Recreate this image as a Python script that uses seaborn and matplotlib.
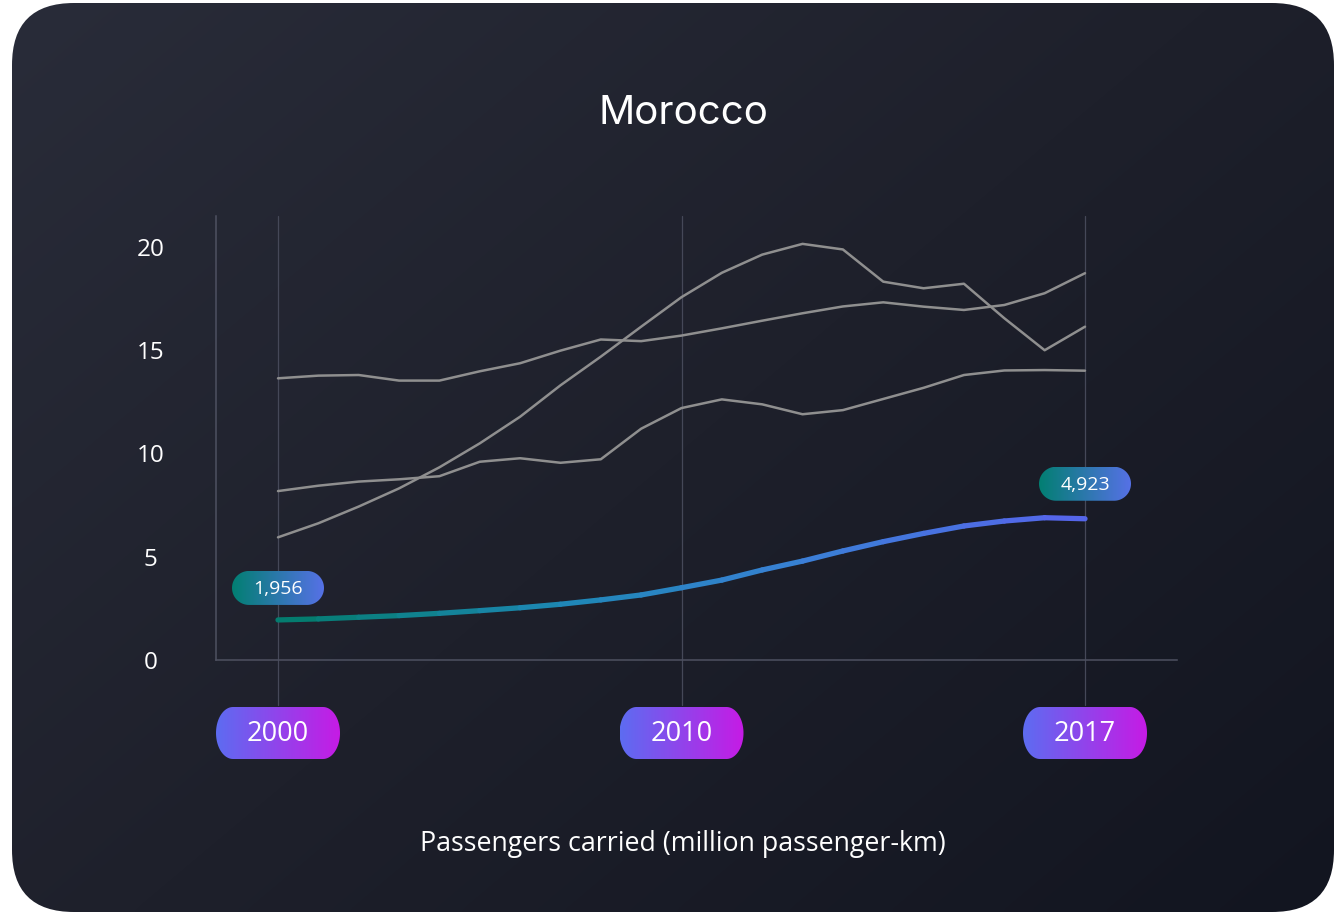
import numpy as np
import pandas as pd
import seaborn as sns
import matplotlib.pyplot as plt
from matplotlib.patches import FancyBboxPatch, PathPatch
from matplotlib.path import Path
from matplotlib.collections import LineCollection
from matplotlib.colors import LinearSegmentedColormap

# positions along the x axis, ticks only at first / middle / last
steps = list(range(21))
tick_steps = [0, 10, 20]
tick_labels = ['2000', '2010', '2017']

# other countries (grey)
line_a = [13.64, 13.77, 13.8, 13.53, 13.53, 13.98, 14.37, 14.98, 15.52, 15.44, 15.71,
          16.06, 16.43, 16.79, 17.12, 17.32, 17.11, 16.95, 17.19, 17.76, 18.73]
line_b = [8.18, 8.44, 8.64, 8.75, 8.9, 9.6, 9.77, 9.55, 9.72, 11.2, 12.2,
          12.62, 12.38, 11.9, 12.1, 12.64, 13.18, 13.8, 14.02, 14.04, 14.01]
line_c = [5.94, 6.62, 7.43, 8.31, 9.33, 10.49, 11.78, 13.3, 14.69, 16.14, 17.57,
          18.75, 19.63, 20.15, 19.88, 18.32, 18.0, 18.22, 16.55, 15.0, 16.14]
# Morocco (highlighted)
morocco = [1.94, 1.99, 2.07, 2.15, 2.26, 2.39, 2.53, 2.7, 2.91, 3.15, 3.5,
           3.87, 4.36, 4.79, 5.28, 5.73, 6.13, 6.49, 6.73, 6.89, 6.84]
start_label, end_label = '1,956', '4,923'

sns.set_theme(style='white')
plt.rcParams['font.family'] = ['Open Sans', 'DejaVu Sans']

W, H = 1342, 914
fig = plt.figure(figsize=(W / 100, H / 100), dpi=100, facecolor='white')

# card background with diagonal gradient and rounded corners
bg = fig.add_axes([0, 0, 1, 1], zorder=0)
bg.set_axis_off()
yy, xx = np.mgrid[0:1:200j, 0:1:200j]
card_cmap = LinearSegmentedColormap.from_list('card', ['#292c39', '#1e202b', '#121520'])
im = bg.imshow(xx * 0.55 + yy * 0.45, cmap=card_cmap, extent=[12, 1334, 912, 3],
               aspect='auto', interpolation='bicubic')
card = FancyBboxPatch((12, 3), 1322, 909, boxstyle='round,pad=0,rounding_size=62',
                      transform=bg.transData, fc='none', ec='none')
bg.add_patch(card)
im.set_clip_path(card)
bg.set_xlim(0, W)
bg.set_ylim(H, 0)

# main chart
ax = fig.add_axes([216 / W, (H - 660) / H, (1177 - 216) / W, (660 - 216) / H], zorder=2)
ax.set_facecolor('none')

df = pd.DataFrame({
    'step': steps * 3,
    'value': line_a + line_b + line_c,
    'series': ['a'] * 21 + ['b'] * 21 + ['c'] * 21,
})
sns.lineplot(data=df, x='step', y='value', hue='series', palette=['#8f8f8f'] * 3,
             legend=False, lw=1.8, ax=ax)

pts = np.column_stack([steps, morocco])
segs = np.stack([pts[:-1], pts[1:]], axis=1)
hl_cmap = LinearSegmentedColormap.from_list('hl', ['#047c6f', '#1d88b4', '#3a80d6', '#5566ea'])
lc = LineCollection(segs, colors=hl_cmap(np.linspace(0, 1, len(segs))), lw=3.8,
                    capstyle='round', joinstyle='round', zorder=3)
ax.add_collection(lc)

ax.set_xlim(-62 / 40.35, 20 + 92 / 40.35)
ax.set_ylim(0, 21.5)

for s in tick_steps:
    ax.plot([s, s], [1, -0.102], transform=ax.get_xaxis_transform(), color='#454858',
            lw=0.9, clip_on=False, zorder=0)

sns.despine(ax=ax)
for side in ['left', 'bottom']:
    ax.spines[side].set_color('#4e5161')
    ax.spines[side].set_linewidth(1.1)

ax.set_yticks([0, 5, 10, 15, 20])
ax.set_xticks(tick_steps)
ax.set_xticklabels([])
ax.tick_params(axis='x', length=0)
ax.tick_params(axis='y', length=0, pad=47, labelcolor='white', labelsize=17.5)
for t in ax.get_yticklabels():
    t.set_ha('center')
ax.set_xlabel('')
ax.set_ylabel('')

# overlay for the gradient pills
top = fig.add_axes([0, 0, 1, 1], zorder=5)
top.set_axis_off()
top.set_facecolor('none')


def to_px(x, y):
    d = ax.transData.transform((x, y))
    return d[0], H - d[1]


def rounded_box(x0, y0, x1, y1, rx, ry, n=24):
    verts = []
    for cx, cy, a0 in [(x1 - rx, y1 - ry, 0), (x0 + rx, y1 - ry, 90),
                       (x0 + rx, y0 + ry, 180), (x1 - rx, y0 + ry, 270)]:
        t = np.radians(np.linspace(a0, a0 + 90, n))
        verts += list(zip(cx + rx * np.cos(t), cy + ry * np.sin(t)))
    verts.append(verts[0])
    return Path(verts, closed=True)


def pill(cx, cy, w, h, rx, ry, colors, text, size):
    patch = PathPatch(rounded_box(cx - w / 2, cy - h / 2, cx + w / 2, cy + h / 2, rx, ry),
                      transform=top.transData, fc='none', ec='none')
    top.add_patch(patch)
    grad = np.linspace(0, 1, 256).reshape(1, -1)
    g = top.imshow(grad, cmap=LinearSegmentedColormap.from_list('p', colors),
                   extent=[cx - w / 2, cx + w / 2, cy + h / 2, cy - h / 2],
                   aspect='auto', interpolation='bilinear')
    g.set_clip_path(patch)
    top.text(cx, cy + 1, text, color='white', ha='center', va='center', fontsize=size)


for s, lab in zip(tick_steps, tick_labels):
    cx, _ = to_px(s, 0)
    pill(cx, 733, 124, 52, 17, 26, ['#5d6cf1', '#c61be5'], lab, 19.5)

cx, cy = to_px(steps[0], morocco[0])
pill(cx, cy - 32, 92, 34, 17, 17, ['#027f72', '#5671e6'], start_label, 14)
cx, cy = to_px(steps[-1], morocco[-1])
pill(cx, cy - 35, 92, 34, 17, 17, ['#027f72', '#5671e6'], end_label, 14)

top.set_xlim(0, W)
top.set_ylim(H, 0)

fig.text(683 / W, 1 - 113 / H, 'Morocco', fontsize=29, color='white', ha='center',
         va='center', family=['Inter', 'DejaVu Sans'])
fig.text(683 / W, 1 - 844 / H, 'Passengers carried (million passenger-km)', fontsize=19.3,
         color='white', ha='center', va='center')

fig.savefig('out.png', dpi=100, facecolor='white')
